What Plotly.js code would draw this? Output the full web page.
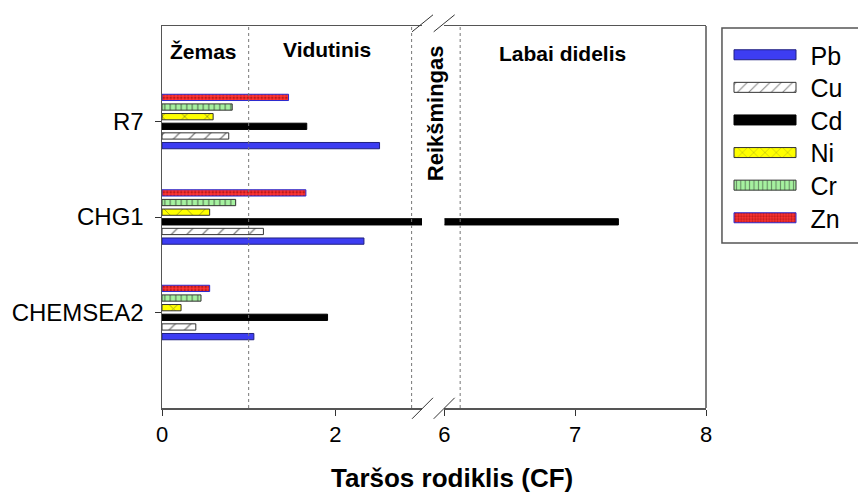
<!DOCTYPE html>
<html><head><meta charset="utf-8">
<script src="https://cdn.plot.ly/plotly-3.0.1.min.js"></script>
<style>html,body{margin:0;padding:0;background:#fff}#chart{width:858px;height:495px}</style>
</head><body><div id="chart"></div>
<script>
// ---- data ----
const categories = ["CHEMSEA2", "CHG1", "R7"];
const metals = ["Pb", "Cu", "Cd", "Ni", "Cr", "Zn"];
const pb = [1.06, 2.33, 2.51];
const cu = [0.39, 1.17, 0.77];
const cd = [1.91, 7.33, 1.67];
const ni = [0.22, 0.55, 0.59];
const cr = [0.45, 0.85, 0.81];
const zn = [0.55, 1.66, 1.46];
const leftTicks = [0, 2];
const rightTicks = [6, 7, 8];
const leftRange = [0, 3];
const rightRange = [6, 8];
const zoneNames = ["Žemas", "Vidutinis", "Reikšmingas", "Labai didelis"];
const zoneLinesLeft = [1, 2.88];
const zoneLinesRight = [6.12];
const axisTitle = "Taršos rodiklis (CF)";

// ---- styles ----
const series = [pb, cu, cd, ni, cr, zn];
const styles = [
  {color: '#3d3df2', line: '#202080'},
  {color: '#ffffff', line: '#333333', pattern: {shape: '/', bgcolor: '#ffffff', fgcolor: '#000000', size: 11, solidity: 0.12, fillmode: 'overlay'}},
  {color: '#000000', line: '#000000'},
  {color: '#ffff00', line: '#333333', pattern: {shape: 'x', bgcolor: '#ffff00', fgcolor: '#333333', size: 16, solidity: 0.1, fillmode: 'overlay'}},
  {color: '#a6f2a0', line: '#333333', pattern: {shape: '|', bgcolor: '#a6f2a0', fgcolor: '#222222', size: 5.5, solidity: 0.25, fillmode: 'overlay'}},
  {color: '#ff3535', line: '#2a2ad0', pattern: {shape: '.', bgcolor: '#ff3535', fgcolor: '#7a0000', size: 3.5, solidity: 0.45, fillmode: 'overlay'}}
];

const traces = [];
['x', 'x2'].forEach((xa, k) => {
  series.forEach((vals, i) => {
    const st = styles[i];
    const marker = {color: st.color, line: {color: st.line, width: 1}};
    if (st.pattern) marker.pattern = st.pattern;
    traces.push({
      type: 'bar', orientation: 'h', y: categories, x: vals, name: metals[i],
      xaxis: xa, yaxis: 'y', showlegend: k === 0, marker: marker, hoverinfo: 'none'
    });
  });
});

// pixel helpers for decorations
const L = 162, R = 707, T = 26, B = 408;
const px = v => (v - L) / (R - L);
const py = v => 1 - (v - T) / (B - T);

const axisCommon = {
  ticks: 'outside', ticklen: 6, tickcolor: '#333', tickwidth: 1,
  showline: true, linecolor: '#555', linewidth: 1.5, mirror: true,
  showgrid: false, zeroline: false, tickfont: {size: 22, color: '#000'}, anchor: 'y', fixedrange: true
};

const shapes = [];
zoneLinesLeft.forEach(v => shapes.push({type: 'line', xref: 'x', yref: 'paper', x0: v, x1: v, y0: 0, y1: 1, line: {color: '#777', width: 1, dash: 'dot'}}));
zoneLinesRight.forEach(v => shapes.push({type: 'line', xref: 'x2', yref: 'paper', x0: v, x1: v, y0: 0, y1: 1, line: {color: '#777', width: 1, dash: 'dot'}}));
// right frame border
shapes.push({type: 'line', xref: 'paper', yref: 'paper', x0: 1, x1: 1, y0: 0, y1: 1, line: {color: '#555', width: 1.5}});
// axis-break slashes (bottom and top)
[[408.3, 10.5], [23.3, 8.5]].forEach(([cy, h]) => {
  [423, 444.7].forEach(cx => {
    shapes.push({type: 'line', xref: 'paper', yref: 'paper', x0: px(cx - 10.5), x1: px(cx + 10.5), y0: py(cy + h), y1: py(cy - h), line: {color: '#333', width: 1}});
  });
});
// legend box
shapes.push({type: 'rect', xref: 'paper', yref: 'paper', x0: px(723), x1: px(900), y0: py(28), y1: py(243), line: {color: '#555', width: 1.5}, fillcolor: 'rgba(0,0,0,0)'});

const labFont = {size: 21, color: '#000'};
const annotations = [
  {text: '<b>' + zoneNames[0] + '</b>', x: px(204), y: py(51), xref: 'paper', yref: 'paper', showarrow: false, font: labFont, xanchor: 'center', yanchor: 'middle'},
  {text: '<b>' + zoneNames[1] + '</b>', x: px(327), y: py(50), xref: 'paper', yref: 'paper', showarrow: false, font: labFont, xanchor: 'center', yanchor: 'middle'},
  {text: '<b>' + zoneNames[2] + '</b>', x: px(436.7), y: py(113), xref: 'paper', yref: 'paper', showarrow: false, font: {size: 22, color: '#000'}, textangle: -90, xanchor: 'center', yanchor: 'middle'},
  {text: '<b>' + zoneNames[3] + '</b>', x: px(563), y: py(53), xref: 'paper', yref: 'paper', showarrow: false, font: labFont, xanchor: 'center', yanchor: 'middle'},
  {text: '<b>' + axisTitle + '</b>', x: px(453), y: py(478), xref: 'paper', yref: 'paper', showarrow: false, font: {size: 26, color: '#000'}, xanchor: 'center', yanchor: 'middle'}
];

const layout = {
  width: 858, height: 495,
  margin: {l: L, r: 858 - R, t: T, b: 495 - B, pad: 0},
  paper_bgcolor: '#fff', plot_bgcolor: '#fff',
  font: {family: 'Arial, "Liberation Sans", sans-serif', color: '#000'},
  barmode: 'group', bargap: 0.394, bargroupgap: 0.35,
  xaxis: Object.assign({}, axisCommon, {domain: [0, px(422.5)], range: leftRange, tickvals: leftTicks}),
  xaxis2: Object.assign({}, axisCommon, {domain: [px(445), 1], range: rightRange, tickvals: rightTicks}),
  yaxis: {type: 'category', range: [-1, 3], ticks: 'outside', ticklen: 6, tickcolor: '#333',
          showline: true, linecolor: '#555', linewidth: 1.5, mirror: false, showgrid: false, zeroline: false,
          tickfont: {size: 24, color: '#000'}, anchor: 'x', fixedrange: true, ticklabelstandoff: 6},
  showlegend: true,
  legend: {x: px(719.5), xanchor: 'left', y: py(32), yanchor: 'top', font: {size: 25, color: '#000'},
           itemwidth: 81, borderwidth: 0, bgcolor: 'rgba(0,0,0,0)', traceorder: 'normal'},
  shapes: shapes, annotations: annotations
};

Plotly.newPlot('chart', traces, layout, {displayModeBar: false, staticPlot: true}).then(gd => {
  gd.querySelectorAll('.legend .legendpoints path').forEach(p => p.setAttribute('d', 'M-31,-5H31V5H-31Z'));
  // tighten legend row spacing to the reference's ~32.6 px pitch
  const items = Array.from(gd.querySelectorAll('.legend .traces'));
  let y0 = null;
  items.forEach((g, i) => {
    const m = /translate\(\s*([-\d.]+)[ ,]+([-\d.]+)\s*\)/.exec(g.getAttribute('transform') || '');
    if (!m) return;
    if (y0 === null) y0 = parseFloat(m[2]);
    g.setAttribute('transform', 'translate(' + m[1] + ',' + (y0 + i * 32.6) + ')');
  });
});
</script>
</body></html>
